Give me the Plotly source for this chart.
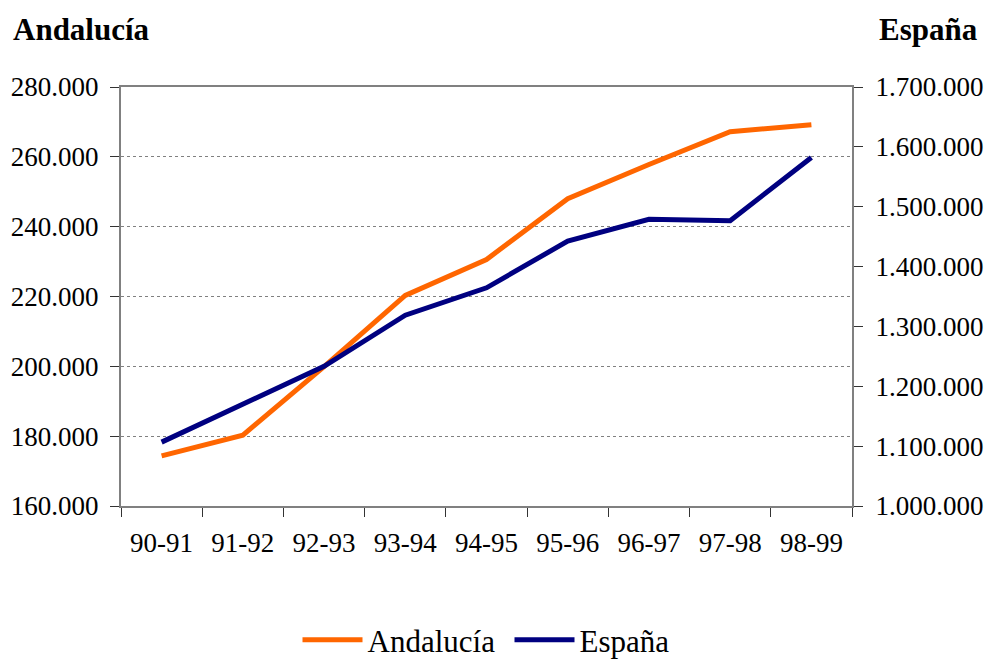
import plotly.graph_objects as go

cursos = ["90-91", "91-92", "92-93", "93-94", "94-95", "95-96", "96-97", "97-98", "98-99"]
andalucia = [174350, 180300, 199900, 220300, 230600, 248000, 257800, 267200, 269200]
espana = [1106700, 1170800, 1233300, 1318700, 1364500, 1442600, 1478900, 1476700, 1582200]

left_ticks = [160000, 180000, 200000, 220000, 240000, 260000, 280000]
right_ticks = [1000000, 1100000, 1200000, 1300000, 1400000, 1500000, 1600000, 1700000]

FONT = "Liberation Serif"
tick_font = dict(family=FONT, size=27, color="black")

fig = go.Figure()
fig.add_trace(go.Scatter(x=cursos, y=andalucia, name="Andalucía", mode="lines",
                         line=dict(color="#FF6600", width=5), yaxis="y"))
fig.add_trace(go.Scatter(x=cursos, y=espana, name="España", mode="lines",
                         line=dict(color="#000080", width=5), yaxis="y2"))

L, R, T, B = 121, 132, 87, 154
W, H = 984, 660
plot_w = W - L - R
plot_h = H - T - B

fig.update_layout(
    width=W, height=H,
    margin=dict(l=L, r=R, t=T, b=B, autoexpand=False),
    plot_bgcolor="white", paper_bgcolor="white",
    separators=",.",
    showlegend=True,
    legend=dict(orientation="h", x=0.5 + 23 / plot_w, xanchor="center",
                y=-(640 - (H - B)) / plot_h, yanchor="middle",
                font=dict(family=FONT, size=31, color="black"), itemwidth=60,
                entrywidth=137, entrywidthmode="pixels",
                traceorder="normal"),
    xaxis=dict(type="category", tickson="boundaries", ticks="outside", ticklen=9,
               tickcolor="#333333", showline=True, linecolor="#808080", linewidth=2,
               mirror=True, showgrid=False, tickfont=tick_font,
               range=[-0.5, 8.5], automargin=False, ticklabelstandoff=12),
    yaxis=dict(range=[160000, 280000], tickvals=left_ticks, tickformat=",d",
               ticks="outside", ticklen=9, tickcolor="#333333",
               showline=True, linecolor="#808080", linewidth=2, mirror=False,
               showgrid=True, gridcolor="#808080", griddash="dot", gridwidth=1,
               zeroline=False, tickfont=tick_font, automargin=False,
               ticklabelstandoff=6),
    yaxis2=dict(range=[1000000, 1700000], tickvals=right_ticks, tickformat=",d",
                overlaying="y", side="right", ticks="outside", ticklen=9,
                tickcolor="#333333", showline=True, linecolor="#808080", linewidth=2,
                showgrid=False, zeroline=False, tickfont=tick_font,
                ticklabelstandoff=7, automargin=False),
    annotations=[
        dict(text="<b>Andalucía</b>", x=(11 - L) / plot_w, xanchor="left",
             y=(H - B - 30) / plot_h, yanchor="middle", xref="paper", yref="paper",
             showarrow=False, font=dict(family=FONT, size=31, color="black")),
        dict(text="<b>España</b>", x=(980 - L) / plot_w, xanchor="right",
             y=(H - B - 30) / plot_h, yanchor="middle", xref="paper", yref="paper",
             showarrow=False, font=dict(family=FONT, size=31, color="black")),
    ],
)

fig.write_html("out.html")
